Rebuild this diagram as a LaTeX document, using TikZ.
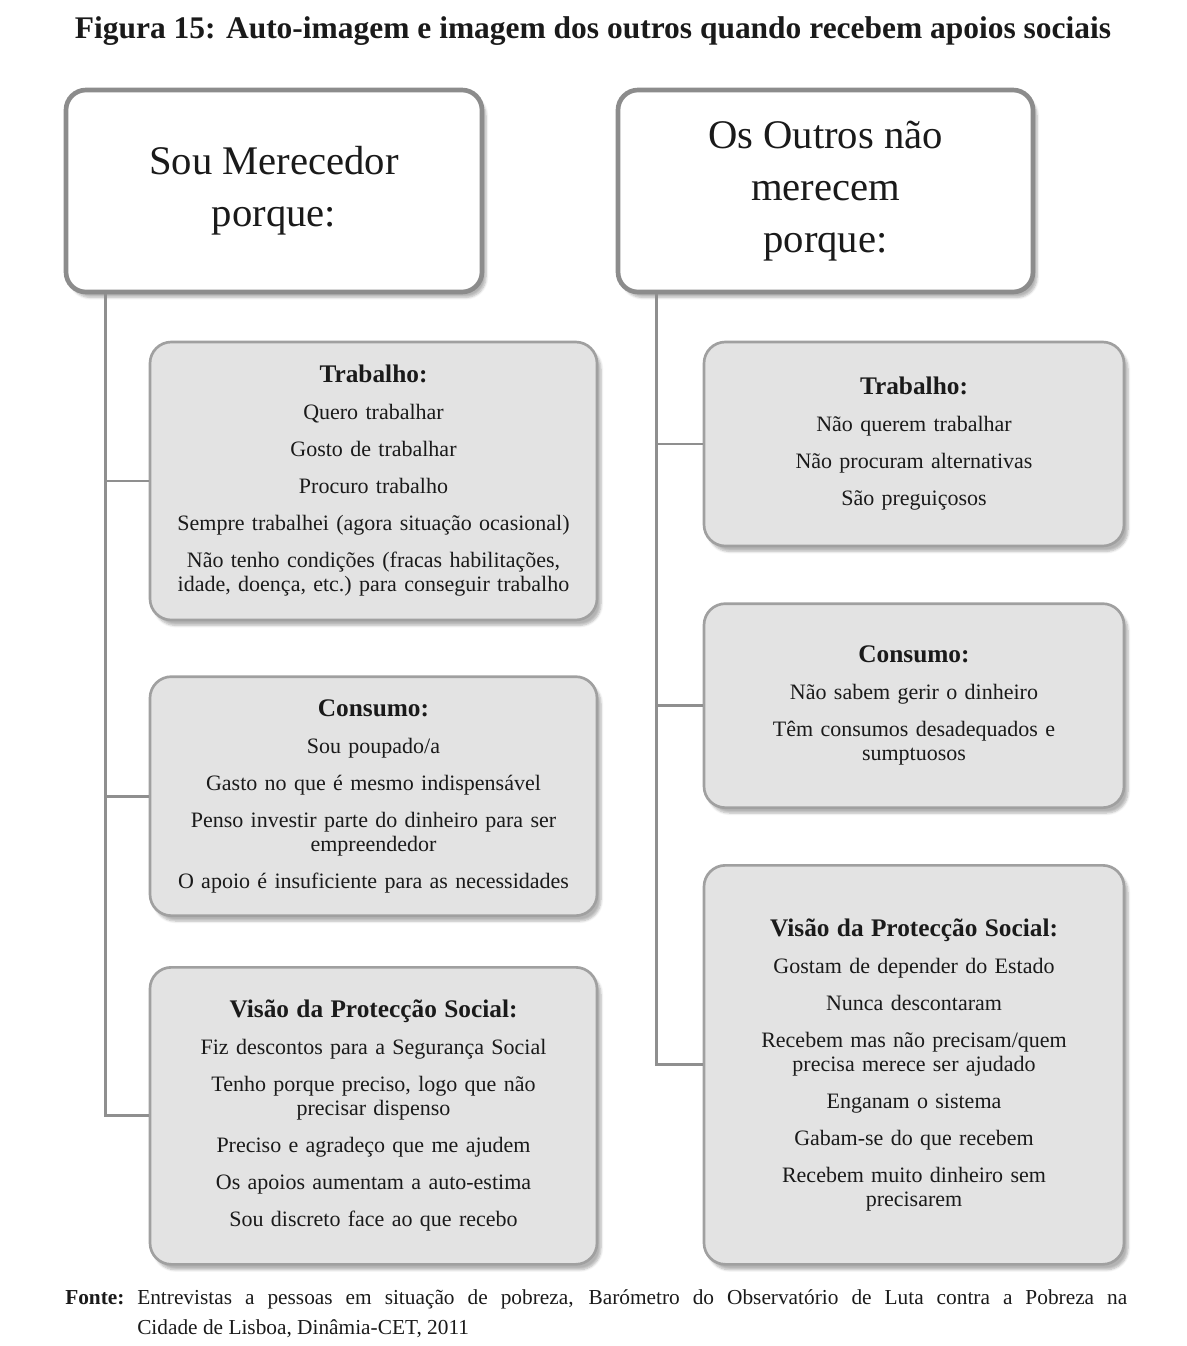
\documentclass[tikz,border=0pt]{standalone}
\usepackage{fontspec}
\setmainfont{Liberation Serif}
\usetikzlibrary{positioning,shadows.blur}
\definecolor{figEdge}{HTML}{8C8C8C}
\definecolor{figCard}{HTML}{E3E3E3}
\definecolor{figCardEdge}{HTML}{A0A0A0}
\definecolor{figLine}{HTML}{8F8F8F}
\definecolor{figInk}{HTML}{1A1A1A}
\newcommand{\gap}{\\[9.75pt]}
\newcommand{\cardtitle}[1]{{\bfseries\fontsize{19}{18}\selectfont #1}}

\begin{document}
\begin{tikzpicture}[x=0.75pt, y=-0.75pt,
          node distance=40pt,
          softshadow/.style={blur shadow={shadow xshift=3pt, shadow yshift=-4pt,
            shadow blur steps=6, shadow opacity=30}},
          head/.style={draw=figEdge, line width=3.5pt, rounded corners=15pt, fill=white,
            minimum height=151.5pt, align=center, text=figInk,
            font=\fontsize{30.5}{39}\selectfont, softshadow},
          card/.style={draw=figCardEdge, line width=2pt, rounded corners=16pt, fill=figCard,
            align=center, text=figInk, font=\fontsize{16.5}{18}\selectfont, softshadow},
          lcard/.style={card, minimum width=335.25pt, text width=320pt},
          rcard/.style={card, minimum width=315pt, text width=300pt},
          link/.style={draw=figLine, line width=2.2pt}]
        \useasboundingbox (0,0) rectangle (1186,1346);
        \node[anchor=base, text=figInk, font=\bfseries\fontsize{23.6}{26}\selectfont] (title) at (593,38)
          {Figura 15: Auto-imagem e imagem dos outros quando recebem apoios sociais};
        % cabeçalhos
        \node[head, minimum width=312pt] (hl) at (274,191) {Sou Merecedor\\porque:};
        \node[head, minimum width=311.25pt] (hr) at (825.5,191) {Os Outros não\\merecem\\porque:};
        % coluna esquerda
        \node[lcard, minimum height=208.5pt] (l1) at (373.5,481) {\cardtitle{Trabalho:}\gap
          Quero trabalhar\gap Gosto de trabalhar\gap Procuro trabalho\gap
          Sempre trabalhei (agora situação ocasional)\gap
          Não tenho condições (fracas habilitações,\\idade, doença, etc.)\ para conseguir trabalho};
        \node[lcard, minimum height=179.25pt, below=40.5pt of l1] (l2) {\cardtitle{Consumo:}\gap
          Sou poupado/a\gap Gasto no que é mesmo indispensável\gap
          Penso investir parte do dinheiro para ser\\empreendedor\gap
          O apoio é insuficiente para as necessidades};
        \node[lcard, minimum height=222.75pt, below=36.75pt of l2] (l3) {\cardtitle{Visão da Protecção Social:}\gap
          Fiz descontos para a Segurança Social\gap
          Tenho porque preciso, logo que não\\precisar dispenso\gap
          Preciso e agradeço que me ajudem\gap
          Os apoios aumentam a auto-estima\gap
          Sou discreto face ao que recebo};
        % coluna direita
        \node[rcard, minimum height=153pt] (r1) at (914,444) {\cardtitle{Trabalho:}\gap
          Não querem trabalhar\gap Não procuram alternativas\gap São preguiçosos};
        \node[rcard, minimum height=153pt, below=41.25pt of r1] (r2) {\cardtitle{Consumo:}\gap
          Não sabem gerir o dinheiro\gap
          Têm consumos desadequados e\\sumptuosos};
        \node[rcard, minimum height=299.25pt, below=41.25pt of r2] (r3) {\cardtitle{Visão da Protecção Social:}\gap
          Gostam de depender do Estado\gap Nunca descontaram\gap
          Recebem mas não precisam/quem\\precisa merece ser ajudado\gap
          Enganam o sistema\gap Gabam-se do que recebem\gap
          Recebem muito dinheiro sem\\precisarem};
        % ligações
        \coordinate (lt) at ([xshift=31.5pt]hl.south west);
        \coordinate (rt) at ([xshift=30.75pt]hr.south west);
        \draw[link] (lt) |- (l1.west);
        \draw[link] (lt) |- (l2.west);
        \draw[link] (lt) |- (l3.west);
        \draw[link] (rt) |- (r1.west);
        \draw[link] (rt) |- (r2.west);
        \draw[link] (rt) |- (r3.west);
        \node[anchor=north west, inner sep=0pt, text=figInk,
          font=\fontsize{16}{22.5}\selectfont] (src) at (65,1289)
          {\makebox[54pt][l]{\textbf{Fonte:}}\parbox[t]{742.5pt}{Entrevistas a pessoas em situação de pobreza,
          Barómetro do Observatório de Luta contra a Pobreza na\linebreak
          Cidade de Lisboa, Dinâmia-CET, 2011}};
      \end{tikzpicture}
\end{document}
